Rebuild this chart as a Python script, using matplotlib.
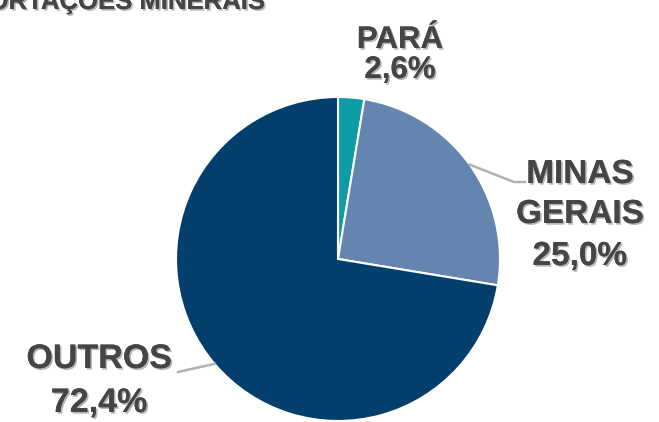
import matplotlib.pyplot as plt
import matplotlib.patheffects as pe
import numpy as np

# dados
estados = ['PARÁ', 'MINAS\nGERAIS', 'OUTROS']
valores = [2.6, 25.0, 72.4]
cores = ['#0f9ba3', '#6385b0', '#023f6c']
titulo = 'EXPORTAÇÕES MINERAIS'

W, H = 659, 422
fig = plt.figure(figsize=(W / 100, H / 100), dpi=100)
plt.rcParams['font.family'] = ['Liberation Sans', 'DejaVu Sans']

cx, cy, r = 338, 259, 162
ax = fig.add_axes([(cx - r) / W, (H - cy - r) / H, 2 * r / W, 2 * r / H])
wedges, _ = ax.pie(valores, colors=cores, startangle=90, counterclock=False,
                   radius=1.0, wedgeprops=dict(edgecolor='white', linewidth=1.5))
ax.set_xlim(-1, 1)
ax.set_ylim(-1, 1)
ax.set_aspect('equal')
ax.axis('off')

sombra = [pe.withSimplePatchShadow(offset=(1.2, -1.2), shadow_rgbFace='#b5b5b5', alpha=1.0),
          pe.Normal()]

def rotulo(i, x, baselines, size):
    linhas = estados[i].split('\n') + [f'{valores[i]:.1f}%'.replace('.', ',')]
    for txt, y in zip(linhas, baselines):
        fig.text(x / W, 1 - y / H, txt, fontsize=size, color='#454545',
                 fontweight='bold', ha='center', va='baseline', path_effects=sombra)

rotulo(0, 400, [48, 78], 22.5)
rotulo(1, 580, [183, 223, 265], 24)
rotulo(2, 99, [368, 412], 24.5)

# linhas de chamada
def ponto(i):
    ini = 90 - sum(valores[:i]) * 3.6
    mid = np.deg2rad(ini - valores[i] * 3.6 / 2)
    return np.cos(mid), np.sin(mid)

def px2dat(x, y):
    return (x - cx) / r, (cy - y) / r

mx, my = ponto(1)
p1, p2 = px2dat(514, 182), px2dat(525, 182)
ax.plot([mx, p1[0], p2[0]], [my, p1[1], p2[1]],
        color='#b0b0b0', lw=1.8, clip_on=False)
ox, oy = ponto(2)
p3 = px2dat(178, 372)
ax.plot([ox, p3[0]], [oy, p3[1]], color='#b0b0b0', lw=1.8, clip_on=False)

# titulo cortado no topo, como na imagem original
fig.text(266 / W, 1 - 9 / H, titulo, fontsize=18.5, color='#454545',
         fontweight='bold', ha='right', va='baseline', path_effects=sombra)

fig.savefig('out.png', dpi=100)
